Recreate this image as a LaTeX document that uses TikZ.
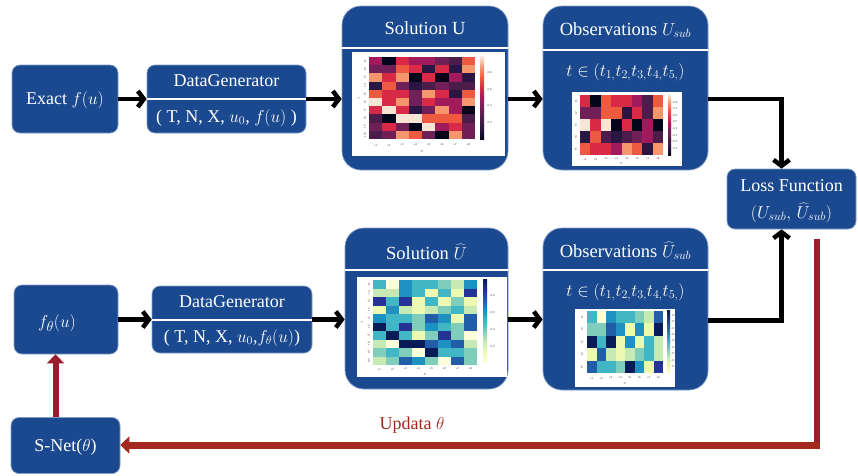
\documentclass[tikz,border=0pt]{standalone}
\usepackage{fontspec}
\setmainfont{Liberation Serif}
\usetikzlibrary{arrows.meta,calc}
\definecolor{boxblue}{HTML}{1B498F}
\definecolor{boxedge}{HTML}{7F9CC8}
\definecolor{redv}{HTML}{9B1C2C}
\definecolor{redh}{HTML}{A3281E}
\definecolor{rk0}{HTML}{03051A}
\definecolor{rk1}{HTML}{2B1542}
\definecolor{rk2}{HTML}{4C1D4B}
\definecolor{rk3}{HTML}{701F57}
\definecolor{rk4}{HTML}{A11A5B}
\definecolor{rk5}{HTML}{D82A46}
\definecolor{rk6}{HTML}{EE5A3F}
\definecolor{rk7}{HTML}{F5966C}
\definecolor{rk8}{HTML}{FAE5D4}
\definecolor{yg0}{HTML}{FFFFD9}
\definecolor{yg1}{HTML}{EDF8B1}
\definecolor{yg2}{HTML}{C7E9B4}
\definecolor{yg3}{HTML}{7FCDBB}
\definecolor{yg4}{HTML}{41B6C4}
\definecolor{yg5}{HTML}{1D91C0}
\definecolor{yg6}{HTML}{225EA8}
\definecolor{yg7}{HTML}{253494}
\definecolor{yg8}{HTML}{081D58}
% heatmap: x0, y0, cell w, cell h, palette, data
\newcommand{\hmap}[6]{%
  \foreach \r [count=\i from 0] in {#6} {%
    \foreach \v [count=\j from 0] in \r {%
      \fill[fill=#5\v] ({#1+\j*#3},{#2+\i*#4}) rectangle ++(#3+0.05,#4+0.05);
    }%
  }%
}
% colour bar: x0, y0, w, h, palette
\newcommand{\cbar}[5]{%
  \foreach \k in {0,...,7} {%
    \pgfmathtruncatemacro\kk{\k+1}%
    \shade[bottom color=#5\k, top color=#5\kk] ({#1},{#2+#4-(\k+1)*#4/8-0.05}) rectangle ++(#3,#4/8+0.1);
  }%
}
\begin{document}
\begin{tikzpicture}[x=1pt,y=-1pt,
  box/.style={draw=boxedge, line width=0.7pt, fill=boxblue, rounded corners=8pt, inner sep=0pt},
  bigbox/.style={box, rounded corners=19pt},
  lbl/.style={text=white, inner sep=1pt, font=\fontsize{18}{21}\selectfont},
  ttl/.style={text=white, inner sep=1pt, font=\fontsize{18.5}{21}\selectfont},
  divider/.style={white, line width=2pt},
  blk/.style={black, line width=4.5pt, -{Straight Barb[length=6pt,width=16pt]}},
  redarr/.style={-{Triangle[length=9pt,width=17pt]}},
  tick/.style={font=\fontsize{3}{3}\selectfont\sffamily, text=gray!60!black, inner sep=0.3pt},
  panel/.style={fill=white, draw=none}]
\useasboundingbox (0,0) rectangle (858,475);

% ---------- boxes ----------
\node[box, minimum width=106pt, minimum height=68pt] (exact) at (65,99) {};
\node[box, minimum width=159pt, minimum height=68pt] (dg1) at (226.5,99) {};
\node[bigbox, minimum width=166pt, minimum height=164pt] (sol1) at (425,88) {};
\node[bigbox, minimum width=165pt, minimum height=164pt] (obs1) at (625.5,88) {};
\node[box, minimum width=129pt, minimum height=60pt] (loss) at (791.5,199) {};
\node[box, minimum width=104pt, minimum height=69pt] (fth) at (66,319.5) {};
\node[box, minimum width=160pt, minimum height=67pt] (dg2) at (232,319.5) {};
\node[bigbox, minimum width=163pt, minimum height=161pt] (sol2) at (426.5,308.5) {};
\node[bigbox, minimum width=165pt, minimum height=162pt] (obs2) at (625.5,309) {};
\node[box, minimum width=109pt, minimum height=56pt] (snet) at (65.5,445.5) {};

% ---------- dividers ----------
\draw[divider] (dg1.west |- 0,99) -- (dg1.east |- 0,99);
\draw[divider] (sol1.west |- 0,48) -- (sol1.east |- 0,48);
\draw[divider] (obs1.west |- 0,50) -- (obs1.east |- 0,50);
\draw[divider] (dg2.west |- 0,320) -- (dg2.east |- 0,320);
\draw[divider] (sol2.west |- 0,270) -- (sol2.east |- 0,270);
\draw[divider] (obs2.west |- 0,270) -- (obs2.east |- 0,270);

% ---------- texts ----------
\node[lbl] (exactT) at (65,100) {Exact $f(u)$};
\node[lbl] (dg1a) at (226.5,81) {DataGenerator};
\node[lbl] (dg1b) at (226.5,118) {( T, N, X, $u_0$, $f(u)$ )};
\node[ttl] (sol1T) at (425,28) {Solution U};
\node[ttl] (obs1T) at (625.5,30) {Observations $U_{sub}$};
\node[ttl] (obs1t) at (625.5,72) {$t\in(t_{1,}t_{2,}t_{3,}t_{4,}t_{5,})$};
\node[lbl] (lossA) at (791.5,186) {Loss Function};
\node[lbl, font=\fontsize{18.5}{21}\selectfont] (lossB) at (791.5,213) {$(U_{sub},\,\widehat{U}_{sub})$};
\node[lbl, font=\fontsize{19}{21}\selectfont] (fthT) at (57,323) {$f_\theta(u)$};
\node[lbl] (dg2a) at (232,302) {DataGenerator};
\node[lbl] (dg2b) at (232,338) {( T, N, X, $u_0$,$f_\theta(u)$)};
\node[ttl] (sol2T) at (426.5,252) {Solution $\widehat{U}$};
\node[ttl] (obs2T) at (625.5,251) {Observations $\widehat{U}_{sub}$};
\node[ttl] (obs2t) at (625.5,292) {$t\in(t_{1,}t_{2,}t_{3,}t_{4,}t_{5,})$};
\node[lbl] (snetT) at (65.5,447) {S-Net($\theta$)};
\node[text=redh, inner sep=1pt, font=\fontsize{18}{21}\selectfont] (upd) at (412,425) {Updata $\theta$};

% ---------- heatmap: Solution U ----------
\fill[panel] (352,52) rectangle (505,156);
\hmap{369}{57}{13.25}{8.2}{rk}{{4,0,5,4,4,3,2,6},{3,3,6,5,1,5,1,7},{7,5,7,0,5,0,4,1},{1,6,3,1,2,3,2,2},{6,5,5,3,7,5,1,6},{8,5,7,3,5,4,4,7},{5,8,5,1,3,7,4,0},{2,0,8,8,6,6,6,2},{3,5,3,0,8,4,5,3},{2,3,7,6,3,0,7,3}}
\cbar{480}{57}{4}{82}{rk}
\foreach \j in {1,...,8} \node[tick] (s1x\j) at ({369+(\j-0.5)*13.25},145) {x\j};
\foreach \i in {1,...,10} \node[tick, rotate=90] (s1y\i) at (365,{57+(\i-0.5)*8.2}) {t\i};
\node[tick] (s1X) at (422,151) {X};
\node[tick, rotate=90] (s1T) at (359,98) {T};
\foreach \t/\yy in {0.2/123,0.4/106,0.6/90,0.8/73} \node[tick, anchor=west] at (486,\yy) {-\t};

% ---------- heatmap: Observations U_sub ----------
\fill[panel] (572,92) rectangle (682,166);
\hmap{580}{95}{10.4}{12}{rk}{{5,0,6,5,5,4,2,6},{3,3,6,6,1,5,2,7},{8,5,8,0,5,0,4,0},{1,6,2,1,2,3,4,2},{6,5,5,4,7,6,1,7}}
\cbar{668}{95}{3}{60}{rk}
\foreach \j in {1,...,8} \node[tick] (o1x\j) at ({580+(\j-0.5)*10.4},159) {x\j};
\foreach \i in {1,...,5} \node[tick, rotate=90] (o1y\i) at (576,{95+(\i-0.5)*12}) {t\i};
\node[tick] (o1X) at (621.5,163.5) {X};
\foreach \t [count=\n] in {0.1,0.2,0.3,0.4,0.5,0.6,0.7,0.8} \node[tick, anchor=west] at (671.5,{155-\n*6.6}) {-\t};

% ---------- heatmap: Solution U hat ----------
\fill[panel] (357,277) rectangle (507,377);
\hmap{373}{280}{13}{8.5}{yg}{{4,0,5,4,4,3,2,5},{2,2,5,4,1,4,1,7},{7,4,7,1,4,1,3,1},{1,5,2,1,2,3,4,2},{5,4,4,3,6,5,1,6},{8,4,7,3,5,4,3,6},{4,8,4,1,3,7,3,0},{2,0,8,8,6,5,6,2},{3,4,3,0,8,4,4,3},{2,3,6,5,3,0,6,3}}
\cbar{483}{280}{4}{82}{yg}
\foreach \j in {1,...,8} \node[tick] (s2x\j) at ({373+(\j-0.5)*13},369) {x\j};
\foreach \i in {1,...,10} \node[tick, rotate=90] (s2y\i) at (369,{280+(\i-0.5)*8.5}) {t\i};
\node[tick] (s2X) at (425,374) {X};
\node[tick, rotate=90] (s2T) at (362,322) {T};
\foreach \t/\yy in {0.2/347,0.4/330,0.6/313,0.8/296} \node[tick, anchor=west] at (489,\yy) {-\t};

% ---------- heatmap: Observations U hat ----------
\fill[panel] (575,309) rectangle (675,387);
\hmap{587}{311}{9.5}{12.4}{yg}{{4,0,5,4,4,3,2,6},{3,3,6,5,1,5,1,8},{8,4,8,1,5,1,4,2},{1,6,2,1,2,3,4,2},{6,4,4,3,8,5,1,7}}
\cbar{667}{311}{3}{62}{yg}
\foreach \j in {1,...,8} \node[tick] (o2x\j) at ({587+(\j-0.5)*9.5},378) {x\j};
\foreach \i in {1,...,5} \node[tick, rotate=90] (o2y\i) at (582,{311+(\i-0.5)*12.4}) {t\i};
\node[tick] (o2X) at (625,383) {X};
\foreach \t [count=\n] in {0.1,0.2,0.3,0.4,0.5,0.6,0.7,0.8,0.9} \node[tick, anchor=west] at (670.5,{373-\n*6.4}) {-\t};

% ---------- black connectors ----------
\draw[blk] (exact) -- (dg1);
\draw[blk] (dg1.east) -- (dg1.east -| sol1.west);
\draw[blk] (sol1.east |- dg1.east) -- (obs1.west |- dg1.east);
\draw[blk] (obs1.east |- dg1.east) -| ([xshift=-10pt]loss.north);
\draw[blk] (fth) -- (dg2);
\draw[blk] (dg2.east) -- (dg2.east -| sol2.west);
\draw[blk] (sol2.east |- dg2.east) -- (obs2.west |- dg2.east);
\draw[blk] ([yshift=-1pt]obs2.east |- dg2.east) -| ([xshift=-10pt]loss.south);

% ---------- red feedback ----------
\coordinate (rstart) at ([xshift=25pt,yshift=-10pt]loss.south);
\coordinate (rcorner) at (rstart |- 0,445);
\draw[redv, line width=6pt] (rstart) -- ([yshift=-3.5pt]rcorner);
\draw[redh, line width=7pt, redarr] ([xshift=3pt]rcorner) -- (rcorner -| snet.east);
\draw[redv, line width=6pt, redarr] ([xshift=-10pt]snet.north) -- ([xshift=-10pt]snet.north |- fth.south);
\end{tikzpicture}
\end{document}
